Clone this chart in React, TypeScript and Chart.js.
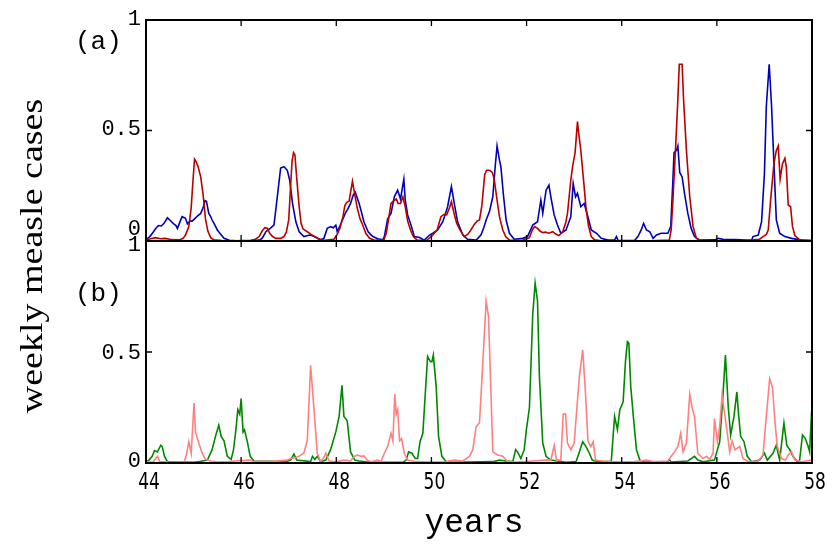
import React, { useEffect, useRef } from 'react';
import { Chart, registerables } from 'chart.js';

Chart.register(...registerables);

// ---------- data ----------
const xTicks = [44, 46, 48, 50, 52, 54, 56, 58];
const xTickLabels = ['44', '46', '48', '50', '52', '54', '56', '58'];
const yTicks = [0, 0.5, 1];
const yTickLabels = ['0', '0.5', '1'];

// panel (a): dark red series
const redYears = [44.0, 44.1, 44.2, 44.3, 44.4, 44.5, 44.6, 44.7, 44.78, 44.83, 44.9, 44.95, 44.98, 45.02, 45.05, 45.09, 45.15, 45.2, 45.25, 45.3, 45.36, 45.43, 45.6, 45.8, 46.0, 46.2, 46.3, 46.38, 46.44, 46.5, 46.55, 46.6, 46.66, 46.73, 46.83, 46.9, 46.95, 47.0, 47.04, 47.07, 47.1, 47.13, 47.17, 47.22, 47.26, 47.3, 47.39, 47.47, 47.55, 47.62, 47.75, 47.95, 48.02, 48.08, 48.14, 48.18, 48.22, 48.27, 48.3, 48.34, 48.38, 48.44, 48.5, 48.56, 48.62, 48.7, 48.8, 49.0, 49.05, 49.1, 49.15, 49.2, 49.26, 49.3, 49.35, 49.4, 49.45, 49.5, 49.56, 49.62, 49.7, 49.9, 50.03, 50.12, 50.2, 50.26, 50.32, 50.38, 50.42, 50.47, 50.53, 50.6, 50.69, 50.76, 50.83, 50.9, 50.96, 51.01, 51.06, 51.12, 51.16, 51.22, 51.28, 51.32, 51.37, 51.43, 51.5, 51.56, 51.64, 51.9, 52.06, 52.12, 52.17, 52.23, 52.28, 52.34, 52.4, 52.47, 52.55, 52.62, 52.68, 52.76, 52.82, 52.86, 52.93, 52.97, 53.02, 53.07, 53.1, 53.14, 53.2, 53.25, 53.3, 53.36, 53.43, 53.6, 54.0, 54.5, 55.0, 55.04, 55.08, 55.13, 55.18, 55.21, 55.27, 55.3, 55.36, 55.43, 55.5, 55.57, 55.68, 56.0, 56.5, 56.9, 56.97, 57.04, 57.08, 57.13, 57.2, 57.25, 57.29, 57.33, 57.38, 57.43, 57.46, 57.5, 57.55, 57.59, 57.64, 57.74, 58.0];
const redCases = [0.005, 0.01, 0.015, 0.01, 0.012, 0.008, 0.006, 0.005, 0.012, 0.027, 0.065, 0.15, 0.25, 0.37, 0.36, 0.34, 0.29, 0.21, 0.1, 0.045, 0.015, 0.005, 0.002, 0.0, 0.002, 0.003, 0.008, 0.02, 0.045, 0.06, 0.058, 0.035, 0.02, 0.012, 0.012, 0.02, 0.04, 0.095, 0.25, 0.36, 0.4, 0.39, 0.28, 0.155, 0.08, 0.055, 0.042, 0.03, 0.02, 0.01, 0.003, 0.008, 0.03, 0.06, 0.11, 0.16, 0.175, 0.18, 0.22, 0.27, 0.22, 0.15, 0.1, 0.07, 0.035, 0.012, 0.003, 0.005, 0.035, 0.1, 0.17, 0.18, 0.19, 0.17, 0.17, 0.2, 0.155, 0.09, 0.05, 0.02, 0.004, 0.002, 0.027, 0.05, 0.11, 0.12, 0.118, 0.15, 0.178, 0.13, 0.08, 0.05, 0.02, 0.03, 0.05, 0.075, 0.09, 0.095, 0.16, 0.3, 0.32, 0.32, 0.31, 0.28, 0.2, 0.11, 0.05, 0.02, 0.004, 0.002, 0.015, 0.05, 0.065, 0.057, 0.045, 0.038, 0.04, 0.035, 0.042, 0.03, 0.025, 0.042, 0.08, 0.125, 0.276, 0.34, 0.4, 0.54, 0.48, 0.41, 0.27, 0.15, 0.07, 0.02, 0.005, 0.0, 0.001, 0.0, 0.004, 0.05, 0.2, 0.41, 0.64, 0.8, 0.8, 0.64, 0.41, 0.2, 0.065, 0.012, 0.0, 0.0, 0.0, 0.008, 0.02, 0.03, 0.05, 0.185, 0.35, 0.41, 0.43, 0.28, 0.35, 0.374, 0.336, 0.163, 0.155, 0.065, 0.025, 0.005, 0.0];

// panel (a): blue series
const blueYears = [44.0, 44.08, 44.15, 44.2, 44.26, 44.32, 44.38, 44.45, 44.5, 44.57, 44.63, 44.66, 44.72, 44.76, 44.83, 44.87, 44.92, 44.97, 45.02, 45.08, 45.15, 45.2, 45.24, 45.27, 45.32, 45.36, 45.39, 45.44, 45.5, 45.57, 45.64, 45.75, 46.0, 46.3, 46.4, 46.45, 46.52, 46.61, 46.69, 46.76, 46.83, 46.9, 46.97, 47.02, 47.08, 47.15, 47.22, 47.32, 47.4, 47.46, 47.57, 47.67, 47.74, 47.81, 47.88, 47.94, 47.99, 48.02, 48.08, 48.13, 48.2, 48.23, 48.3, 48.36, 48.4, 48.48, 48.53, 48.58, 48.67, 48.72, 48.77, 48.87, 48.975, 49.01, 49.08, 49.15, 49.22, 49.29, 49.35, 49.42, 49.45, 49.5, 49.57, 49.64, 49.75, 49.85, 49.96, 50.03, 50.13, 50.24, 50.34, 50.42, 50.48, 50.55, 50.66, 50.76, 50.94, 51.04, 51.1, 51.15, 51.22, 51.29, 51.34, 51.38, 51.43, 51.46, 51.51, 51.57, 51.64, 51.74, 51.92, 52.02, 52.13, 52.23, 52.3, 52.34, 52.41, 52.47, 52.51, 52.58, 52.65, 52.72, 52.83, 52.93, 52.98, 53.03, 53.07, 53.14, 53.21, 53.29, 53.36, 53.47, 53.57, 53.71, 53.85, 53.89, 53.92, 54.27, 54.34, 54.41, 54.46, 54.52, 54.59, 54.66, 54.73, 54.83, 54.97, 55.03, 55.07, 55.1, 55.15, 55.18, 55.22, 55.27, 55.32, 55.39, 55.46, 55.53, 55.64, 55.96, 56.03, 56.17, 56.38, 56.73, 56.76, 56.87, 56.94, 57.0, 57.04, 57.1, 57.15, 57.2, 57.25, 57.32, 57.43, 57.57, 57.78, 58.0];
const blueCases = [0.005, 0.02, 0.04, 0.055, 0.07, 0.068, 0.08, 0.105, 0.095, 0.08, 0.07, 0.057, 0.09, 0.11, 0.103, 0.077, 0.09, 0.09, 0.1, 0.113, 0.125, 0.15, 0.183, 0.18, 0.125, 0.11, 0.095, 0.075, 0.05, 0.03, 0.012, 0.003, 0.0, 0.002, 0.005, 0.015, 0.042, 0.057, 0.072, 0.2, 0.33, 0.336, 0.32, 0.276, 0.17, 0.087, 0.042, 0.02, 0.025, 0.027, 0.017, 0.005, 0.012, 0.057, 0.065, 0.06, 0.072, 0.042, 0.07, 0.095, 0.13, 0.14, 0.17, 0.21, 0.22, 0.17, 0.13, 0.087, 0.042, 0.03, 0.02, 0.01, 0.005, 0.02, 0.1, 0.125, 0.2, 0.23, 0.19, 0.28, 0.185, 0.118, 0.072, 0.02, 0.016, 0.004, 0.027, 0.035, 0.05, 0.087, 0.155, 0.246, 0.17, 0.087, 0.027, 0.008, 0.004, 0.027, 0.06, 0.095, 0.133, 0.2, 0.336, 0.43, 0.366, 0.336, 0.216, 0.095, 0.035, 0.008, 0.012, 0.02, 0.072, 0.087, 0.185, 0.125, 0.23, 0.253, 0.2, 0.118, 0.072, 0.035, 0.05, 0.11, 0.26, 0.2, 0.216, 0.155, 0.17, 0.11, 0.05, 0.035, 0.012, 0.004, 0.005, 0.02, 0.003, 0.002, 0.02, 0.05, 0.08, 0.05, 0.042, 0.012, 0.027, 0.035, 0.035, 0.065, 0.246, 0.4, 0.41, 0.43, 0.31, 0.29, 0.216, 0.125, 0.057, 0.02, 0.004, 0.005, 0.012, 0.006, 0.006, 0.003, 0.02, 0.027, 0.087, 0.306, 0.61, 0.8, 0.61, 0.35, 0.095, 0.035, 0.02, 0.012, 0.004, 0.003];

// panel (b): pink series
const pinkYears = [44.0, 44.15, 44.24, 44.29, 44.5, 44.8, 44.85, 44.9, 44.95, 45.01, 45.04, 45.11, 45.18, 45.25, 45.36, 45.5, 45.75, 45.92, 46.2, 46.27, 46.5, 46.62, 46.97, 47.04, 47.15, 47.22, 47.32, 47.39, 47.44, 47.46, 47.5, 47.55, 47.6, 47.67, 47.74, 47.78, 47.85, 48.0, 48.16, 48.3, 48.38, 48.44, 48.52, 48.58, 48.65, 48.73, 48.87, 48.94, 49.01, 49.08, 49.15, 49.19, 49.23, 49.26, 49.29, 49.33, 49.37, 49.43, 49.5, 49.68, 50.0, 50.24, 50.48, 50.66, 50.8, 50.87, 50.94, 51.01, 51.08, 51.15, 51.2, 51.23, 51.29, 51.39, 51.5, 51.6, 51.78, 52.13, 52.41, 52.51, 52.58, 52.63, 52.72, 52.77, 52.82, 52.86, 52.93, 53.0, 53.11, 53.18, 53.24, 53.29, 53.35, 53.4, 53.45, 53.57, 53.99, 54.27, 54.52, 54.69, 54.97, 55.04, 55.11, 55.18, 55.24, 55.29, 55.36, 55.43, 55.48, 55.53, 55.6, 55.71, 55.78, 55.85, 55.92, 55.95, 56.01, 56.06, 56.11, 56.17, 56.22, 56.27, 56.32, 56.38, 56.48, 56.55, 56.66, 56.87, 56.97, 57.04, 57.11, 57.17, 57.22, 57.27, 57.36, 57.44, 57.5, 57.57, 57.64, 57.78, 57.99, 58.0];
const pinkCases = [0.003, 0.005, 0.03, 0.006, 0.003, 0.005, 0.036, 0.096, 0.044, 0.27, 0.14, 0.09, 0.044, 0.016, 0.009, 0.004, 0.006, 0.01, 0.013, 0.006, 0.008, 0.006, 0.013, 0.02, 0.025, 0.03, 0.046, 0.1, 0.34, 0.44, 0.33, 0.19, 0.044, 0.006, 0.025, 0.044, 0.009, 0.005, 0.013, 0.009, 0.03, 0.036, 0.03, 0.032, 0.013, 0.006, 0.013, 0.006, 0.044, 0.074, 0.134, 0.1, 0.31, 0.22, 0.24, 0.1, 0.11, 0.044, 0.013, 0.006, 0.004, 0.004, 0.013, 0.009, 0.03, 0.06, 0.164, 0.18, 0.45, 0.73, 0.66, 0.46, 0.05, 0.036, 0.03, 0.006, 0.004, 0.009, 0.013, 0.013, 0.08, 0.013, 0.013, 0.22, 0.22, 0.09, 0.06, 0.09, 0.39, 0.51, 0.31, 0.1, 0.074, 0.096, 0.013, 0.009, 0.004, 0.006, 0.013, 0.006, 0.009, 0.03, 0.05, 0.074, 0.134, 0.05, 0.09, 0.31, 0.25, 0.21, 0.044, 0.02, 0.03, 0.016, 0.044, 0.2, 0.096, 0.164, 0.306, 0.21, 0.134, 0.05, 0.1, 0.06, 0.074, 0.02, 0.006, 0.009, 0.036, 0.21, 0.38, 0.34, 0.19, 0.074, 0.02, 0.013, 0.036, 0.05, 0.013, 0.006, 0.013, 0.015];

// panel (b): green series
const greenYears = [44.0, 44.06, 44.13, 44.18, 44.24, 44.31, 44.34, 44.39, 44.45, 45.0, 45.11, 45.29, 45.39, 45.46, 45.53, 45.58, 45.64, 45.71, 45.79, 45.84, 45.89, 45.93, 45.97, 46.0, 46.04, 46.07, 46.13, 46.19, 46.27, 46.94, 47.04, 47.11, 47.17, 47.46, 47.5, 47.55, 47.6, 47.67, 47.78, 47.88, 47.99, 48.06, 48.12, 48.16, 48.23, 48.3, 48.39, 48.48, 48.71, 49.4, 49.47, 49.52, 49.59, 49.66, 49.71, 49.76, 49.82, 49.87, 49.92, 49.98, 50.01, 50.04, 50.1, 50.15, 50.22, 50.31, 50.45, 51.29, 51.43, 51.57, 51.71, 51.77, 51.81, 51.88, 51.95, 52.0, 52.06, 52.13, 52.18, 52.23, 52.27, 52.34, 52.41, 52.51, 52.83, 53.04, 53.11, 53.18, 53.25, 53.32, 53.38, 53.5, 53.78, 53.85, 53.91, 53.96, 54.03, 54.08, 54.12, 54.15, 54.19, 54.24, 54.31, 54.38, 54.48, 54.97, 55.0, 55.04, 55.39, 55.53, 55.6, 55.71, 55.95, 56.06, 56.13, 56.18, 56.24, 56.29, 56.36, 56.42, 56.46, 56.5, 56.57, 56.64, 56.73, 56.9, 57.0, 57.06, 57.18, 57.25, 57.32, 57.41, 57.47, 57.53, 57.6, 57.69, 57.74, 57.8, 57.86, 57.92, 57.95, 57.99, 58.0];
const greenCases = [0.006, 0.013, 0.03, 0.056, 0.05, 0.08, 0.074, 0.03, 0.006, 0.003, 0.006, 0.013, 0.06, 0.12, 0.17, 0.12, 0.1, 0.03, 0.016, 0.06, 0.15, 0.24, 0.22, 0.29, 0.14, 0.15, 0.096, 0.03, 0.009, 0.006, 0.013, 0.04, 0.013, 0.006, 0.03, 0.016, 0.03, 0.006, 0.013, 0.06, 0.14, 0.21, 0.35, 0.21, 0.19, 0.05, 0.013, 0.009, 0.003, 0.003, 0.013, 0.05, 0.044, 0.02, 0.02, 0.096, 0.134, 0.31, 0.48, 0.456, 0.456, 0.486, 0.344, 0.12, 0.03, 0.006, 0.003, 0.006, 0.013, 0.009, 0.006, 0.06, 0.05, 0.02, 0.06, 0.156, 0.25, 0.67, 0.81, 0.73, 0.39, 0.09, 0.03, 0.013, 0.003, 0.006, 0.05, 0.096, 0.074, 0.044, 0.013, 0.006, 0.006, 0.21, 0.15, 0.24, 0.276, 0.46, 0.546, 0.54, 0.344, 0.22, 0.06, 0.013, 0.004, 0.006, 0.016, 0.004, 0.009, 0.03, 0.013, 0.006, 0.013, 0.096, 0.31, 0.486, 0.25, 0.126, 0.21, 0.32, 0.21, 0.12, 0.096, 0.03, 0.006, 0.013, 0.044, 0.013, 0.044, 0.08, 0.013, 0.18, 0.08, 0.06, 0.03, 0.006, 0.013, 0.126, 0.11, 0.074, 0.05, 0.23, 0.23];

// ---------- drawing ----------
const W = 832;
const H = 545;
const PLOT_LEFT = 146;
const PLOT_RIGHT = 812;

type Series = { xs: number[]; ys: number[]; color: string };
type Panel = {
  top: number;
  bottom: number;
  tag: string;
  tagY: number;
  labelShift: number[];
  series: Series[];
  outer: boolean;
};

const panels: Panel[] = [
  {
    top: 20,
    bottom: 241,
    tag: '(a)',
    tagY: 42,
    labelShift: [-12, -1, -1],
    series: [
      { xs: redYears, ys: redCases, color: '#bb0000' },
      { xs: blueYears, ys: blueCases, color: '#0000bb' },
    ],
    outer: false,
  },
  {
    top: 241,
    bottom: 463,
    tag: '(b)',
    tagY: 294,
    labelShift: [-2, 1, 4],
    series: [
      { xs: pinkYears, ys: pinkCases, color: '#ff8080' },
      { xs: greenYears, ys: greenCases, color: '#008800' },
    ],
    outer: true,
  },
];

function decorPlugin(p: Panel) {
  return {
    id: 'panelDecor',
    afterDraw(chart: any) {
      const ctx: CanvasRenderingContext2D = chart.ctx;
      const a = chart.chartArea;
      const xs = chart.scales.x;
      const ys = chart.scales.y;
      ctx.save();
      ctx.strokeStyle = '#000';
      ctx.lineWidth = 1.3;
      ctx.beginPath();
      for (const t of xTicks) {
        const px = xs.getPixelForValue(t);
        ctx.moveTo(px, a.bottom);
        ctx.lineTo(px, a.bottom - 6);
        ctx.moveTo(px, a.top);
        ctx.lineTo(px, a.top + 6);
      }
      for (const t of yTicks) {
        const py = ys.getPixelForValue(t);
        ctx.moveTo(a.left, py);
        ctx.lineTo(a.left + 6, py);
        ctx.moveTo(a.right, py);
        ctx.lineTo(a.right - 6, py);
      }
      ctx.stroke();
      ctx.lineWidth = 2;
      ctx.strokeRect(a.left, a.top, a.right - a.left, a.bottom - a.top);

      ctx.fillStyle = '#000';
      ctx.font = '22px "Liberation Mono", monospace';
      ctx.textAlign = 'right';
      ctx.textBaseline = 'middle';
      yTicks.forEach((t, i) => {
        ctx.fillText(yTickLabels[i], 141, ys.getPixelForValue(t) + p.labelShift[i]);
      });

      ctx.font = '26px "Liberation Mono", monospace';
      ctx.textAlign = 'left';
      ctx.fillText(p.tag, 75, p.tagY);

      if (p.outer) {
        ctx.textAlign = 'center';
        ctx.textBaseline = 'alphabetic';
        xTicks.forEach((t, i) => {
          ctx.save();
          ctx.translate(xs.getPixelForValue(t) + 3, 489);
          ctx.scale(0.74, 1);
          ctx.font = '23px "DejaVu Sans", sans-serif';
          ctx.fillText(xTickLabels[i], 0, 0);
          ctx.restore();
        });
        ctx.font = '33px "Liberation Mono", monospace';
        ctx.fillText('years', 474, 532);

        ctx.save();
        ctx.translate(42, 256);
        ctx.rotate(-Math.PI / 2);
        ctx.scale(1, 0.82);
        ctx.font = '38px "Liberation Serif", serif';
        ctx.textAlign = 'center';
        ctx.textBaseline = 'alphabetic';
        ctx.fillText('weekly measle cases', 0, 0);
        ctx.restore();
      }
      ctx.restore();
    },
  };
}

function PanelChart({ p }: { p: Panel }) {
  const ref = useRef<HTMLCanvasElement | null>(null);
  useEffect(() => {
    if (!ref.current) return;
    const chart = new Chart(ref.current, {
      type: 'line',
      data: {
        datasets: p.series.map((s) => ({
          data: s.xs.map((x, i) => ({ x, y: s.ys[i] })),
          borderColor: s.color,
          backgroundColor: s.color,
          borderWidth: 1.6,
          pointRadius: 0,
          tension: 0,
          fill: false,
        })),
      },
      options: {
        animation: false,
        responsive: false,
        events: [],
        layout: {
          padding: { left: PLOT_LEFT, right: W - PLOT_RIGHT, top: p.top, bottom: H - p.bottom },
        },
        scales: {
          x: { type: 'linear', min: 44, max: 58, display: false },
          y: { type: 'linear', min: 0, max: 1, display: false },
        },
        plugins: { legend: { display: false }, tooltip: { enabled: false } },
      },
      plugins: [decorPlugin(p)],
    } as any);
    return () => chart.destroy();
  }, [p]);
  return (
    <canvas
      ref={ref}
      width={W}
      height={H}
      style={{ position: 'absolute', left: 0, top: 0, width: W, height: H }}
    />
  );
}

export default function App() {
  return (
    <div style={{ position: 'absolute', left: 0, top: 0, width: W, height: H, background: '#fff' }}>
      {panels.map((p) => (
        <PanelChart key={p.tag} p={p} />
      ))}
    </div>
  );
}
